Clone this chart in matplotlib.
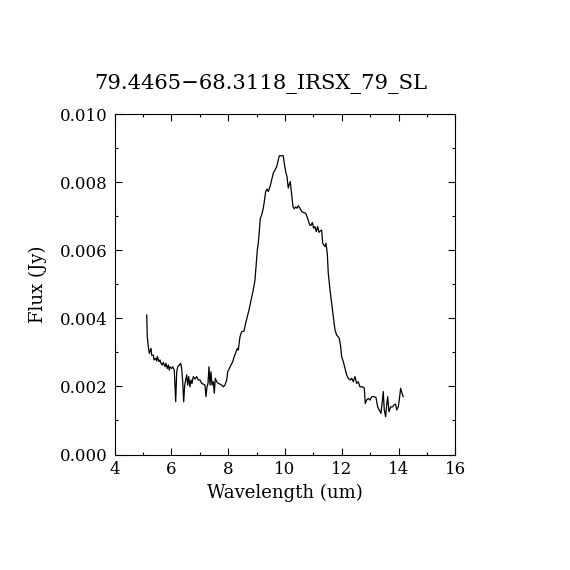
import matplotlib
matplotlib.use('Agg')
import matplotlib.pyplot as plt
from matplotlib.ticker import MultipleLocator, FormatStrFormatter


TITLE = '79.4465\u221268.3118_IRSX_79_SL'

# wavelength (um)
wavelength = [
    5.133, 5.154, 5.189, 5.224, 5.284, 5.309, 5.365, 5.390, 5.450, 5.485,
    5.506, 5.566, 5.601, 5.636, 5.682, 5.717, 5.777, 5.812, 5.858, 5.893,
    5.928, 5.953, 6.013, 6.048, 6.104, 6.129, 6.153, 6.189, 6.224, 6.280,
    6.329, 6.364, 6.400, 6.435, 6.470, 6.505, 6.540, 6.576, 6.611, 6.657,
    6.692, 6.727, 6.773, 6.833, 6.892, 6.949, 7.008, 7.068, 7.125, 7.184,
    7.220, 7.255, 7.290, 7.325, 7.360, 7.395, 7.431, 7.476, 7.512, 7.547,
    7.596, 7.652, 7.712, 7.772, 7.828, 7.888, 7.948, 7.983, 8.039, 8.099,
    8.159, 8.215, 8.275, 8.321, 8.356, 8.416, 8.476, 8.557, 8.627, 8.673,
    8.733, 8.768, 8.884, 8.944, 8.979, 9.025, 9.060, 9.095, 9.130, 9.179,
    9.236, 9.271, 9.320, 9.366, 9.412, 9.472, 9.531, 9.588, 9.647, 9.707,
    9.764, 9.799, 9.939, 9.975, 10.024, 10.070, 10.115, 10.151, 10.186, 10.235,
    10.281, 10.327, 10.376, 10.422, 10.467, 10.527, 10.587, 10.657, 10.728, 10.773,
    10.819, 10.868, 10.914, 10.960, 11.009, 11.055, 11.101, 11.150, 11.196, 11.241,
    11.291, 11.326, 11.407, 11.442, 11.488, 11.523, 11.583, 11.643, 11.699, 11.759,
    11.819, 11.910, 11.959, 11.994, 12.051, 12.111, 12.170, 12.227, 12.286, 12.346,
    12.403, 12.462, 12.522, 12.578, 12.638, 12.733, 12.790, 12.825, 12.874, 12.930,
    12.990, 13.050, 13.131, 13.201, 13.261, 13.317, 13.377, 13.423, 13.458, 13.493,
    13.543, 13.578, 13.613, 13.659, 13.719, 13.789, 13.835, 13.894, 13.930, 13.986,
    14.021, 14.070, 14.116, 14.162,
]

# flux (Jy)
flux = [
    0.00410, 0.00346, 0.00317, 0.00297, 0.00312, 0.00292, 0.00292, 0.00278, 0.00283, 0.00275,
    0.00288, 0.00273, 0.00278, 0.00268, 0.00263, 0.00271, 0.00258, 0.00268, 0.00253, 0.00263,
    0.00248, 0.00258, 0.00253, 0.00258, 0.00248, 0.00204, 0.00155, 0.00243, 0.00258, 0.00263,
    0.00268, 0.00253, 0.00214, 0.00155, 0.00204, 0.00219, 0.00234, 0.00204, 0.00229, 0.00199,
    0.00219, 0.00209, 0.00229, 0.00222, 0.00229, 0.00219, 0.00219, 0.00209, 0.00207, 0.00204,
    0.00170, 0.00199, 0.00209, 0.00258, 0.00204, 0.00243, 0.00204, 0.00214, 0.00180, 0.00224,
    0.00214, 0.00209, 0.00207, 0.00204, 0.00199, 0.00204, 0.00219, 0.00243, 0.00253, 0.00263,
    0.00273, 0.00288, 0.00302, 0.00312, 0.00307, 0.00346, 0.00361, 0.00363, 0.00390, 0.00405,
    0.00425, 0.00439, 0.00484, 0.00513, 0.00552, 0.00601, 0.00621, 0.00655, 0.00694, 0.00704,
    0.00724, 0.00743, 0.00773, 0.00780, 0.00773, 0.00787, 0.00807, 0.00827, 0.00836, 0.00846,
    0.00866, 0.00878, 0.00878, 0.00856, 0.00831, 0.00817, 0.00783, 0.00794, 0.00802, 0.00763,
    0.00728, 0.00722, 0.00728, 0.00724, 0.00731, 0.00724, 0.00714, 0.00711, 0.00709, 0.00699,
    0.00689, 0.00675, 0.00673, 0.00682, 0.00665, 0.00670, 0.00655, 0.00670, 0.00653, 0.00657,
    0.00660, 0.00621, 0.00611, 0.00621, 0.00591, 0.00533, 0.00484, 0.00444, 0.00405, 0.00366,
    0.00351, 0.00342, 0.00317, 0.00287, 0.00273, 0.00253, 0.00234, 0.00224, 0.00219, 0.00224,
    0.00214, 0.00229, 0.00209, 0.00214, 0.00199, 0.00199, 0.00195, 0.00150, 0.00160, 0.00165,
    0.00160, 0.00170, 0.00170, 0.00168, 0.00140, 0.00131, 0.00121, 0.00155, 0.00185, 0.00131,
    0.00111, 0.00146, 0.00170, 0.00126, 0.00140, 0.00140, 0.00146, 0.00148, 0.00131, 0.00140,
    0.00160, 0.00195, 0.00180, 0.00170,
]

x_ticks = [4, 6, 8, 10, 12, 14, 16]
y_ticks = [0.000, 0.002, 0.004, 0.006, 0.008, 0.010]


def main():
    plt.rcParams['font.family'] = ['DejaVu Serif']

    fig = plt.figure(figsize=(5.7, 5.7), dpi=100)
    ax = fig.add_axes([0.2009, 0.2026, 0.5982, 0.5969])

    ax.plot(wavelength, flux, color='black', lw=0.9)

    ax.set_xlim(4, 16)
    ax.set_ylim(0, 0.010)
    ax.set_xticks(x_ticks)
    ax.set_yticks(y_ticks)
    ax.xaxis.set_minor_locator(MultipleLocator(1))
    ax.yaxis.set_minor_locator(MultipleLocator(0.001))
    ax.yaxis.set_major_formatter(FormatStrFormatter('%.3f'))

    ax.tick_params(which='both', direction='in', top=True, right=True,
                   width=0.8, labelsize=12)
    ax.tick_params(axis='x', pad=5)
    ax.tick_params(axis='y', pad=5)
    ax.tick_params(which='major', length=5)
    ax.tick_params(which='minor', length=2.5)
    for s in ax.spines.values():
        s.set_linewidth(0.8)

    ax.set_xlabel('Wavelength (um)', fontsize=13, labelpad=4)
    ax.set_ylabel('Flux (Jy)', fontsize=13, labelpad=9)

    fig.text(0.458, 0.853, TITLE, ha='center', va='center', fontsize=15.2)

    fig.savefig('out.png', dpi=100, facecolor='white')


if __name__ == '__main__':
    main()
